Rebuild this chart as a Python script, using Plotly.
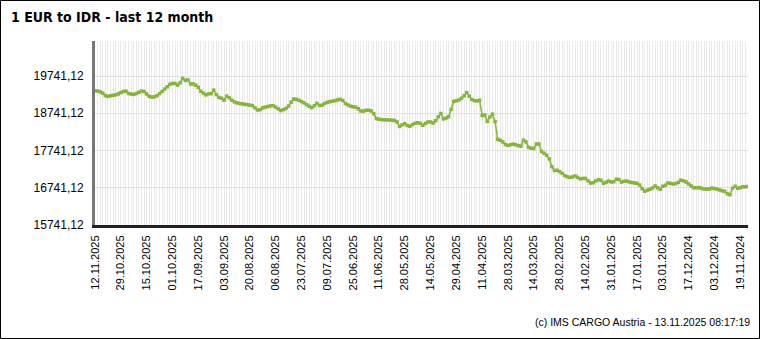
import pandas as pd
import plotly.graph_objects as go

# Trading days (TARGET calendar), newest first
target_holidays = ["2024-12-25", "2024-12-26", "2025-01-01",
                   "2025-04-18", "2025-04-21", "2025-05-01"]
days = pd.bdate_range("2024-11-14", "2025-11-12", freq="C", holidays=target_holidays)[::-1]
date_labels = [d.strftime("%d.%m.%Y") for d in days]

# EUR/IDR reference rate, newest first
eur_idr = [
    19348, 19338, 19316, 19281, 19214, 19195, 19209, 19222, 19235, 19260,
    19295, 19324, 19335, 19273, 19257, 19246, 19273, 19303, 19338, 19324,
    19260, 19195, 19176, 19182, 19211, 19268, 19327, 19389, 19451, 19518,
    19542, 19539, 19496, 19563, 19676, 19623, 19636, 19528, 19528, 19496,
    19437, 19330, 19279, 19235, 19262, 19268, 19362, 19241, 19168, 19144,
    19093, 19200, 19155, 19093, 19045, 19020, 19004, 18994, 18983, 18972,
    18959, 18945, 18886, 18830, 18838, 18886, 18905, 18921, 18940, 18945,
    18905, 18859, 18814, 18838, 18872, 18935, 19042, 19123, 19115, 19090,
    19053, 19018, 18972, 18929, 18891, 18945, 19007, 18948, 18959, 19004,
    19036, 19053, 19066, 19080, 19099, 19115, 19085, 19002, 18964, 18932,
    18913, 18905, 18862, 18803, 18797, 18822, 18822, 18803, 18730, 18598,
    18580, 18571, 18566, 18563, 18561, 18555, 18547, 18510, 18386, 18429,
    18461, 18413, 18392, 18437, 18472, 18486, 18469, 18418, 18467, 18507,
    18507, 18480, 18542, 18647, 18735, 18590, 18612, 18650, 18846, 19058,
    19077, 19098, 19144, 19209, 19295, 19198, 19112, 19080, 19074, 19093,
    18676, 18695, 18523, 18641, 18717, 18515, 18042, 18018, 17972, 17902,
    17878, 17897, 17913, 17897, 17870, 17857, 18018, 17970, 17825, 17800,
    17797, 17916, 17916, 17714, 17668, 17614, 17513, 17308, 17203, 17211,
    17173, 17128, 17069, 17034, 17020, 17031, 17058, 17020, 16980, 16991,
    16991, 16929, 16867, 16875, 16924, 16956, 16943, 16862, 16889, 16921,
    16897, 16902, 16970, 16962, 16892, 16916, 16921, 16897, 16881, 16870,
    16859, 16814, 16714, 16647, 16677, 16701, 16733, 16789, 16741, 16701,
    16781, 16811, 16870, 16859, 16843, 16854, 16886, 16945, 16927, 16897,
    16843, 16787, 16741, 16738, 16746, 16728, 16706, 16706, 16706, 16730,
    16719, 16706, 16682, 16660, 16644, 16579, 16553, 16728, 16781, 16728,
    16741, 16768, 16768, 16775,
]

n = min(len(eur_idr), len(date_labels))
eur_idr = eur_idr[:n]
date_labels = date_labels[:n]
positions = list(range(n))

y_ticks = [15741.12, 16741.12, 17741.12, 18741.12, 19741.12]
y_tick_text = [f"{v:.2f}".replace(".", ",") for v in y_ticks]
x_tick_pos = positions[::10]
x_tick_text = date_labels[::10]

W, H = 760, 339
L, R, T, B = 95, 12, 41, 114
pw, ph = W - L - R, H - T - B


def px(xp):
    return (xp - L) / pw


def py(yp):
    return (H - B - yp) / ph


fig = go.Figure()
fig.add_trace(go.Scatter(
    x=positions, y=eur_idr, mode="lines+markers",
    line=dict(color="#8cb845", width=1.6),
    marker=dict(symbol="square", size=3.5, color="#86b43e"),
    customdata=date_labels,
    hovertemplate="%{customdata}: %{y:.2f}<extra></extra>",
))

fig.update_layout(
    width=W, height=H,
    margin=dict(l=L, r=R, t=T, b=B),
    paper_bgcolor="white", plot_bgcolor="white",
    showlegend=False,
    font=dict(family="Liberation Sans, Arial, sans-serif", size=11, color="#000"),
    xaxis=dict(
        range=[0, n - 1], tickmode="array", tickvals=x_tick_pos, ticktext=x_tick_text,
        tickangle=-90, ticks="", showgrid=True, gridcolor="#e8e8e8", gridwidth=1,
        minor=dict(dtick=1, tick0=0, showgrid=True, gridcolor="#e8e8e8", gridwidth=1),
        showline=True, linecolor="#222", linewidth=3, zeroline=False,
        tickfont=dict(size=11), ticklabelstandoff=3,
    ),
    yaxis=dict(
        range=[15741.12, 20681], tickmode="array", tickvals=y_ticks, ticktext=y_tick_text,
        ticks="", showgrid=True, gridcolor="#e0e0e0", gridwidth=1,
        showline=True, linecolor="#777", linewidth=3, zeroline=False,
        tickfont=dict(size=12), ticklabelstandoff=6,
    ),
    shapes=[dict(
        type="rect", xref="paper", yref="paper",
        x0=px(0.5), x1=px(W - 0.5), y0=py(H - 0.5), y1=py(0.5),
        line=dict(color="#000", width=1), fillcolor="rgba(0,0,0,0)", layer="above",
    )],
    annotations=[
        dict(text="<b>1 EUR to IDR - last 12 month</b>", xref="paper", yref="paper",
             x=px(9), y=py(17), xanchor="left", yanchor="middle", showarrow=False,
             font=dict(family="DejaVu Sans Condensed, DejaVu Sans, sans-serif", size=14, color="#000")),
        dict(text="(c) IMS CARGO Austria - 13.11.2025 08:17:19", xref="paper", yref="paper",
             x=px(752), y=py(322), xanchor="right", yanchor="middle", showarrow=False,
             font=dict(size=10.5, color="#000")),
    ],
)

fig.write_html("out.html")
